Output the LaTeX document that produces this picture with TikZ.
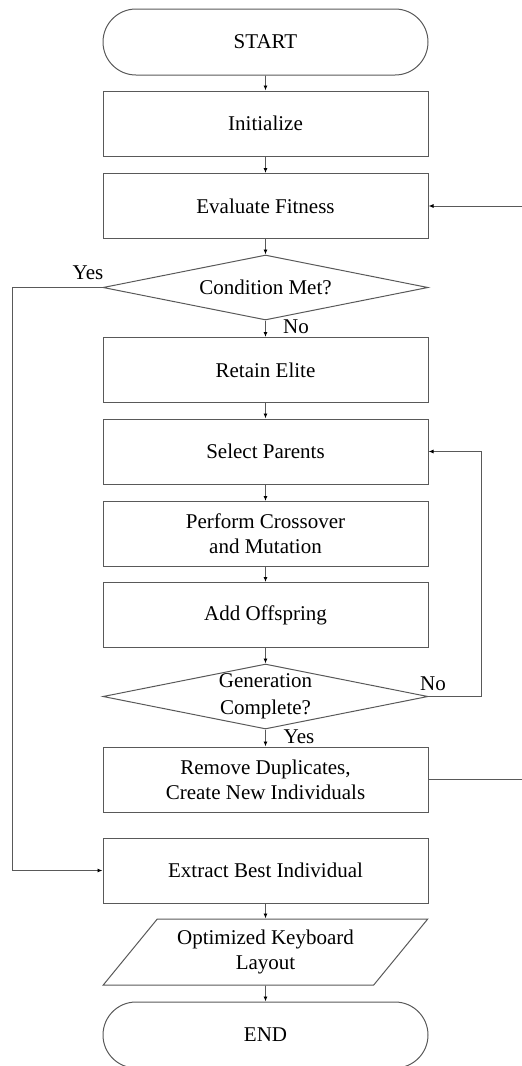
\documentclass[tikz,border=0pt]{standalone}
\usepackage{fontspec}
\setmainfont{Liberation Serif}
\usetikzlibrary{shapes.geometric,shapes.misc,arrows.meta}
\def\flow{\draw[arr]}

\begin{document}
\begin{tikzpicture}[x=1pt,y=-1pt,
    every node/.style={font=\fontsize{21}{25}\selectfont, inner sep=0pt, align=center},
    box/.style={draw=black!65, line width=1pt, minimum width=325pt, minimum height=65pt},
    term/.style={box, rounded rectangle, minimum height=66pt},
    decide/.style={box, diamond, aspect=5},
    io/.style={box, trapezium, trapezium left angle=45, trapezium right angle=135,
               trapezium stretches=true, minimum height=66pt},
    arr/.style={draw=black!65, line width=0.9pt, -{Latex[length=5pt,width=4pt,black]}},
    wire/.style={draw=black!65, line width=0.9pt}]
    \useasboundingbox (0,0) rectangle (522,1066);

    \node[term]   (start)   at (265.5,42)    {START};
    \node[box]    (init)    at (265.5,123.5) {Initialize};
    \node[box]    (eval)    at (265.5,206)   {Evaluate Fitness};
    \node[decide] (met)     at (265.5,287.5) {Condition Met?};
    \node[box]    (elite)   at (265.5,370)   {Retain Elite};
    \node[box]    (parents) at (265.5,451.5) {Select Parents};
    \node[box]    (cross)   at (265.5,534)   {Perform Crossover\\and Mutation};
    \node[box]    (offs)    at (265.5,615)   {Add Offspring};
    \node[decide] (gen)     at (265.5,696.5) {Generation\\[2pt]Complete?};
    \node[box]    (dups)    at (265.5,779.5) {Remove Duplicates,\\Create New Individuals};
    \node[box]    (best)    at (265.5,870.5) {Extract Best Individual};
    \node[io]     (layout)  at (265.5,952)   {Optimized Keyboard\\Layout};
    \node[term]   (end)     at (265.5,1035)  {END};

    % branch labels
    \node (yesA) at (88,273)  {Yes};
    \node (noA)  at (296,327) {No};
    \node (noB)  at (433,684) {No};
    \node (yesB) at (299,737) {Yes};

    % loose ends at the right edge
    \coordinate (backin)  at (522,206);
    \coordinate (backout) at (522,779.5);

    \flow (start) -- (init);
    \flow (init) -- (eval);
    \flow (eval) -- (met);
    \flow (met) -- (elite);
    \flow (elite) -- (parents);
    \flow (parents) -- (cross);
    \flow (cross) -- (offs);
    \flow (offs) -- (gen);
    \flow (gen) -- (dups);
    \flow (best) -- (layout);
    \flow (layout) -- (end);
    \flow (met.west) -- (12,287.5) |- (best.west);
    \flow (gen.east) -- (481,696.5) |- (parents.east);
    \flow (backin) -- (eval.east);
    \draw[wire] (dups.east) -- (backout);
\end{tikzpicture}
\end{document}
